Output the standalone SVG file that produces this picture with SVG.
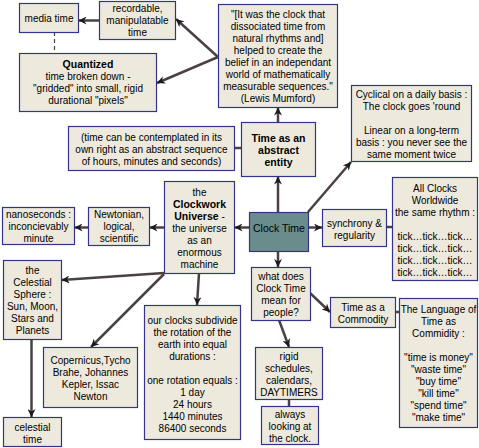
<svg xmlns="http://www.w3.org/2000/svg" width="479" height="448" viewBox="0 0 479 448">
<style>
.box{fill:#edeadd;stroke:#35348a;stroke-width:1.2}
.ct{fill:#6a8c8d;stroke:#35348a;stroke-width:1.2}
text{font-family:"Liberation Sans",Arial,sans-serif;font-size:10px;text-anchor:middle;fill:#000}
.b{font-weight:bold;font-size:10.5px}
.c{fill:none;stroke:#4a4046;stroke-width:2.5}
.a{marker-end:url(#ah)}
.d{stroke-dasharray:4 3;stroke-width:1.2}
</style>
<defs>
<marker id="ah" viewBox="0 0 10 10" markerWidth="10" markerHeight="8" refX="10" refY="5" orient="auto" markerUnits="userSpaceOnUse">
<path d="M0,0 L10,5 L0,10 L3,5 Z" fill="#1f1a1d"/>
</marker>
</defs>
<g id="connectors">
<path class="c a" d="M99,20.5 L78.5,20.5"/>
<path class="c d" d="M54.5,32 L54.5,53"/>
<path class="c a" d="M218,57 L176,19"/>
<path class="c a" d="M218,57 L157,83"/>
<path class="c a" d="M278,122 L278,107.5"/>
<path class="c" d="M234,148 L241,148"/>
<path class="c a" d="M278,212 L278,176.5"/>
<path class="c a" d="M308,212 L351,162"/>
<path class="c a" d="M308,227.5 L322,227.5"/>
<path class="c" d="M386,227 L392,227"/>
<path class="c a" d="M278,251 L278,267"/>
<path class="c a" d="M249,227.5 L234.5,227.5"/>
<path class="c a" d="M164,227.5 L149.5,227.5"/>
<path class="c a" d="M88,227.5 L74.5,227.5"/>
<path class="c a" d="M164,273 L61.5,280"/>
<path class="c a" d="M164,274 L91,347"/>
<path class="c a" d="M199,273 L197,305"/>
<path class="c a" d="M31.5,339 L31.5,417"/>
<path class="c a" d="M310,293 L330,312"/>
<path class="c a" d="M279,320 L289,347"/>
<path class="c" d="M395,312 L399,312"/>
<path class="c" d="M289,399 L289,406"/>
</g>
<g id="n-media"><rect class="box" x="19.5" y="3.5" width="59" height="29"/><text x="49" y="21.5">media time</text></g>
<g id="n-recordable"><rect class="box" x="99.5" y="1.5" width="76" height="38"/><text x="137.5" y="11.5">recordable,</text><text x="137.5" y="23.5">manipulatable</text><text x="137.5" y="35.5">time</text></g>
<g id="n-quantized"><rect class="box" x="19.5" y="53.5" width="137" height="58"/><text class="b" x="88" y="68">Quantized</text><text x="88" y="80">time broken down -</text><text x="88" y="92">"gridded" into small, rigid</text><text x="88" y="104">durational "pixels"</text></g>
<g id="n-mumford"><rect class="box" x="218.5" y="4.5" width="119" height="103"/><text x="278" y="18">"[It was the clock that</text><text x="278" y="30">dissociated time from</text><text x="278" y="42">natural rhythms and]</text><text x="278" y="54">helped to create the</text><text x="278" y="66">belief in an independant</text><text x="278" y="78">world of mathematically</text><text x="278" y="90">measurable sequences."</text><text x="278" y="102">(Lewis Mumford)</text></g>
<g id="n-cyclical"><rect class="box" x="351.5" y="85.5" width="120" height="76"/><text x="411.5" y="98">Cyclical on a daily basis :</text><text x="411.5" y="110">The clock goes 'round</text><text x="411.5" y="134">Linear on a long-term</text><text x="411.5" y="146">basis : you never see the</text><text x="411.5" y="158">same moment twice</text></g>
<g id="n-abstract"><rect class="box" x="241.5" y="122.5" width="74" height="54"/><text class="b" x="278.5" y="141.5">Time as an</text><text class="b" x="278.5" y="153.5">abstract</text><text class="b" x="278.5" y="165.5">entity</text></g>
<g id="n-contemplate"><rect class="box" x="68.5" y="126.5" width="166" height="44"/><text x="151.5" y="141">(time can be contemplated in its</text><text x="151.5" y="153">own right as an abstract sequence</text><text x="151.5" y="165">of hours, minutes and seconds)</text></g>
<g id="n-clocktime"><rect class="ct" x="249.5" y="212.5" width="59" height="39"/><text x="279" y="231.5" style="font-size:10.5px">Clock Time</text></g>
<g id="n-synchrony"><rect class="box" x="322.5" y="209.5" width="64" height="37"/><text x="354.5" y="226.5">synchrony &amp;</text><text x="354.5" y="238.5">regularity</text></g>
<g id="n-allclocks"><rect class="box" x="392.5" y="177.5" width="85" height="103"/><text x="435" y="191.5">All Clocks</text><text x="435" y="203.5">Worldwide</text><text x="435" y="215.5">the same rhythm :</text><text x="435" y="239.5">tick…tick…tick…</text><text x="435" y="251.5">tick…tick…tick…</text><text x="435" y="263.5">tick…tick…tick…</text><text x="435" y="275.5">tick…tick…tick…</text></g>
<g id="n-clockwork"><rect class="box" x="164.5" y="181.5" width="70" height="92"/><text x="199.5" y="195.5">the</text><text class="b" x="199.5" y="207.5">Clockwork</text><text x="199.5" y="219.5"><tspan class="b">Universe</tspan> -</text><text x="199.5" y="231.5">the universe</text><text x="199.5" y="243.5">as an</text><text x="199.5" y="255.5">enormous</text><text x="199.5" y="267.5">machine</text></g>
<g id="n-newtonian"><rect class="box" x="88.5" y="207.5" width="61" height="38"/><text x="119" y="218">Newtonian,</text><text x="119" y="230">logical,</text><text x="119" y="242">scientific</text></g>
<g id="n-nano"><rect class="box" x="2.5" y="207.5" width="72" height="37"/><text x="38.5" y="218">nanoseconds :</text><text x="38.5" y="230">inconcievably</text><text x="38.5" y="242">minute</text></g>
<g id="n-celestial"><rect class="box" x="3.5" y="260.5" width="58" height="79"/><text x="32.5" y="273.5">the</text><text x="32.5" y="285.5">Celestial</text><text x="32.5" y="297.5">Sphere :</text><text x="32.5" y="309.5">Sun, Moon,</text><text x="32.5" y="321.5">Stars and</text><text x="32.5" y="333.5">Planets</text></g>
<g id="n-celestialtime"><rect class="box" x="3.5" y="417.5" width="58" height="29"/><text x="32.5" y="430.5">celestial</text><text x="32.5" y="442.5">time</text></g>
<g id="n-copernicus"><rect class="box" x="43.5" y="347.5" width="94" height="60"/><text x="90.5" y="363.5">Copernicus,Tycho</text><text x="90.5" y="375.5">Brahe, Johannes</text><text x="90.5" y="387.5">Kepler, Issac</text><text x="90.5" y="399.5">Newton</text></g>
<g id="n-ourclocks"><rect class="box" x="144.5" y="305.5" width="96" height="134"/><text x="192.5" y="323.5">our clocks subdivide</text><text x="192.5" y="335.5">the rotation of the</text><text x="192.5" y="347.5">earth into equal</text><text x="192.5" y="359.5">durations :</text><text x="192.5" y="383.5">one rotation equals :</text><text x="192.5" y="395.5">1 day</text><text x="192.5" y="407.5">24 hours</text><text x="192.5" y="419.5">1440 minutes</text><text x="192.5" y="431.5">86400 seconds</text></g>
<g id="n-whatdoes"><rect class="box" x="251.5" y="267.5" width="59" height="53"/><text x="281" y="279.5">what does</text><text x="281" y="291.5">Clock Time</text><text x="281" y="303.5">mean for</text><text x="281" y="315.5">people?</text></g>
<g id="n-commodity"><rect class="box" x="330.5" y="297.5" width="65" height="30"/><text x="363" y="310.5">Time as a</text><text x="363" y="322.5">Commodity</text></g>
<g id="n-language"><rect class="box" x="399.5" y="298.5" width="78" height="129"/><text x="438.5" y="313">The Language of</text><text x="438.5" y="325">Time as</text><text x="438.5" y="337">Commidity :</text><text x="438.5" y="361">"time is money"</text><text x="438.5" y="373">"waste time"</text><text x="438.5" y="385">"buy time"</text><text x="438.5" y="397">"kill time"</text><text x="438.5" y="409">"spend time"</text><text x="438.5" y="421">"make time"</text></g>
<g id="n-rigid"><rect class="box" x="255.5" y="347.5" width="67" height="52"/><text x="289" y="360">rigid</text><text x="289" y="372">schedules,</text><text x="289" y="384">calendars,</text><text x="289" y="396">DAYTIMERS</text></g>
<g id="n-always"><rect class="box" x="261.5" y="406.5" width="57" height="38"/><text x="290" y="417.5">always</text><text x="290" y="429.5">looking at</text><text x="290" y="441.5">the clock.</text></g>
</svg>
